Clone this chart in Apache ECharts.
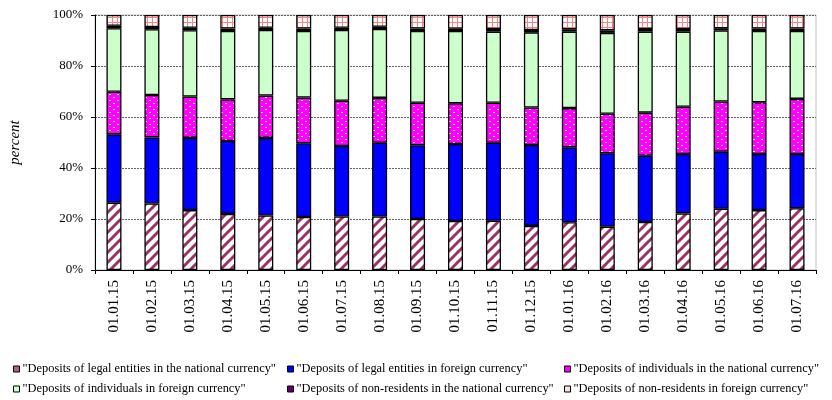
<!DOCTYPE html>
<html>
<head>
<meta charset="utf-8">
<script src="https://cdn.jsdelivr.net/npm/echarts@6/dist/echarts.min.js"></script>
<style>
  html, body { margin: 0; padding: 0; background: #fff; }
  #chart { width: 832px; height: 400px; }
</style>
</head>
<body>
<div id="chart"></div>
<script>
const categories = [
  "01.01.15", "01.02.15", "01.03.15", "01.04.15", "01.05.15", "01.06.15", "01.07.15",
  "01.08.15", "01.09.15", "01.10.15", "01.11.15", "01.12.15", "01.01.16", "01.02.16",
  "01.03.16", "01.04.16", "01.05.16", "01.06.16", "01.07.16",
];

const seriesNames = [
  '"Deposits of legal entities in the national currency"',
  '"Deposits of legal entities in foreign currency"',
  '"Deposits of individuals in the national currency"',
  '"Deposits of individuals in foreign currency"',
  '"Deposits of non-residents in the national currency"',
  '"Deposits of non-residents in foreign currency"',
];

// shares, percent
const legalNational = [26.4, 26.1, 23.5, 22.0, 21.4, 20.8, 21.0, 21.0, 20.0, 19.2, 19.3, 17.3, 18.7, 17.0, 18.8, 22.2, 24.0, 23.5, 24.2];
const legalForeign = [26.8, 25.9, 28.3, 28.6, 30.4, 28.9, 27.6, 28.9, 28.9, 30.2, 30.6, 31.7, 29.4, 28.8, 26.0, 23.3, 22.4, 22.0, 21.3];
const individualsNational = [16.7, 16.6, 16.2, 16.3, 16.6, 17.9, 17.8, 17.6, 16.7, 16.0, 15.7, 14.7, 15.4, 15.5, 16.9, 18.5, 19.7, 20.3, 21.6];
const individualsForeign = [24.9, 25.8, 26.0, 26.8, 25.7, 26.1, 27.7, 27.0, 28.1, 28.3, 27.9, 29.5, 30.0, 31.7, 31.8, 29.5, 27.8, 27.9, 26.6];
const nonResidentsNational = [1.0, 0.9, 1.0, 1.0, 0.9, 1.0, 0.9, 0.9, 1.0, 0.9, 1.0, 0.9, 0.9, 1.0, 1.0, 1.0, 0.9, 1.0, 1.0];
const nonResidentsForeign = [4.2, 4.7, 5.0, 5.3, 5.0, 5.3, 5.0, 4.6, 5.3, 5.4, 5.5, 5.9, 5.6, 6.0, 5.5, 5.5, 5.2, 5.3, 5.3];

const yTicks = ["0%", "20%", "40%", "60%", "80%", "100%"];

const FONT = '"Liberation Serif", "Times New Roman", serif';

function tile(w, h, draw) {
  const c = document.createElement("canvas");
  c.width = w;
  c.height = h;
  draw(c.getContext("2d"));
  return { image: c, repeat: "repeat" };
}

const hatch = tile(10, 10, (ctx) => {
  ctx.fillStyle = "#fff";
  ctx.fillRect(0, 0, 10, 10);
  ctx.strokeStyle = "#993366";
  ctx.lineWidth = 3;
  for (const o of [-10, 0, 10]) {
    ctx.beginPath();
    ctx.moveTo(o - 1, 11);
    ctx.lineTo(o + 11, -1);
    ctx.stroke();
  }
});

const dots = tile(8, 6, (ctx) => {
  ctx.fillStyle = "#ff00ff";
  ctx.fillRect(0, 0, 8, 6);
  ctx.fillStyle = "#fff";
  ctx.fillRect(1, 1, 2, 1);
  ctx.fillRect(5, 4, 2, 1);
});

const grid = tile(5, 5, (ctx) => {
  ctx.fillStyle = "#fff";
  ctx.fillRect(0, 0, 5, 5);
  ctx.fillStyle = "#ff8080";
  ctx.fillRect(2, 0, 1, 5);
  ctx.fillRect(0, 2, 5, 1);
});

const fills = [hatch, "#0000ff", dots, "#ccffcc", "#660066", grid];
const legendFills = ["#b0608a", "#0000ff", "#ff00ff", "#ccffcc", "#660066", "#ffe0e0"];
const values = [
  legalNational, legalForeign, individualsNational,
  individualsForeign, nonResidentsNational, nonResidentsForeign,
];

const legendPos = [
  [13, 363], [287, 363], [564, 363],
  [13, 383], [287, 383], [564, 383],
];

const chart = echarts.init(document.getElementById("chart"), null, { renderer: "canvas" });
chart.setOption({
  animation: false,
  backgroundColor: "#fff",
  textStyle: { fontFamily: FONT },
  grid: {
    left: 93, right: 16, top: 15, bottom: 130,
    show: true, borderColor: "#c0c0c0", borderWidth: 1,
  },
  legend: seriesNames.map((name, i) => ({
    data: [name],
    left: legendPos[i][0],
    top: legendPos[i][1],
    padding: 0,
    icon: "rect",
    itemWidth: 6,
    itemHeight: 6,
    itemGap: 0,
    selectedMode: false,
    itemStyle: { color: legendFills[i], borderColor: "#000", borderWidth: 1 },
    textStyle: { fontFamily: FONT, fontSize: 12.4, color: "#000", padding: [0, 0, 0, -2] },
  })),
  xAxis: {
    type: "category",
    data: categories,
    axisLine: { lineStyle: { color: "#000", width: 1 } },
    axisTick: { show: true, length: 4, lineStyle: { color: "#000" } },
    axisLabel: {
      rotate: 90, margin: 10, color: "#000",
      fontFamily: FONT, fontSize: 15, interval: 0,
    },
  },
  yAxis: {
    type: "value",
    min: 0,
    max: 100,
    interval: 20,
    name: "percent",
    nameLocation: "middle",
    nameRotate: 90,
    nameGap: 72,
    nameTextStyle: { fontFamily: FONT, fontSize: 15, fontStyle: "italic", color: "#000" },
    axisLine: { show: true, lineStyle: { color: "#000", width: 1 } },
    axisTick: { show: true, length: 4, lineStyle: { color: "#000" } },
    axisLabel: {
      margin: 12, color: "#000", fontFamily: FONT, fontSize: 13,
      formatter: (v) => yTicks[Math.round(v / 20)],
    },
    splitLine: { lineStyle: { color: "#666", type: [2, 1], width: 1 } },
  },
  series: seriesNames.map((name, i) => ({
    name,
    type: "bar",
    stack: "total",
    barWidth: 15,
    data: values[i],
    itemStyle: { color: fills[i], borderColor: "#000", borderWidth: 1.3 },
  })),
});
</script>
</body>
</html>
